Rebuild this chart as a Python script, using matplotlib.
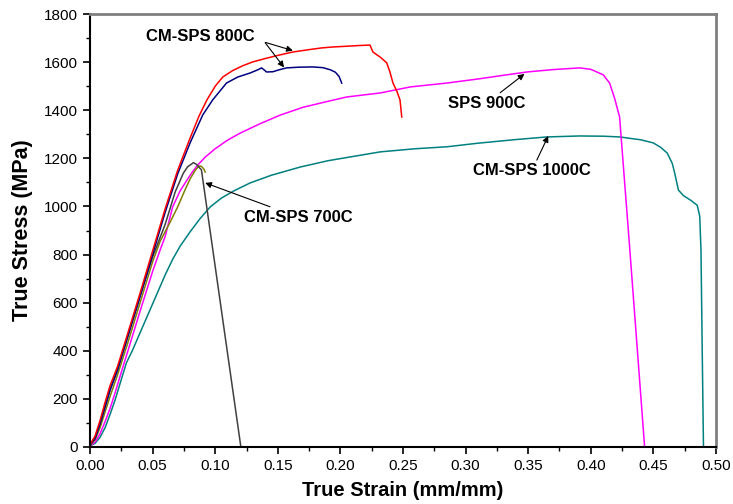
import numpy as np
import matplotlib
matplotlib.use("Agg")
import matplotlib.pyplot as plt
from matplotlib.ticker import MultipleLocator

plt.rcParams['font.family'] = ['Liberation Sans', 'DejaVu Sans']

# stress-strain curves (true strain, true stress in MPa)
red_strain = [0, 0.004, 0.008, 0.012, 0.016, 0.022, 0.03, 0.04, 0.05, 0.06, 0.07, 0.08, 0.087,
              0.0934, 0.1, 0.106, 0.114, 0.122, 0.13, 0.14, 0.15, 0.162, 0.175, 0.185, 0.194,
              0.205, 0.215, 0.2236, 0.2245, 0.226, 0.232, 0.237, 0.2395, 0.242, 0.245, 0.2476, 0.249]
red_stress = [10, 45, 110, 185, 255, 335, 470, 640, 815, 990, 1150, 1285, 1375,
              1443, 1500, 1538, 1565, 1585, 1601, 1615, 1628, 1642, 1652, 1659, 1663,
              1666, 1669, 1671, 1660, 1642, 1620, 1597, 1560, 1513, 1480, 1443, 1372]

blue_strain = [0, 0.004, 0.008, 0.012, 0.016, 0.022, 0.03, 0.04, 0.05, 0.06, 0.07, 0.08, 0.09,
               0.098, 0.109, 0.118, 0.128, 0.134, 0.137, 0.139, 0.141, 0.146, 0.151, 0.157,
               0.167, 0.178, 0.186, 0.192, 0.196, 0.199, 0.201]
blue_stress = [8, 35, 95, 165, 235, 320, 455, 625, 800, 975, 1135, 1265, 1380,
               1443, 1513, 1538, 1555, 1568, 1576, 1568, 1559, 1560, 1568, 1576,
               1579, 1580, 1577, 1568, 1558, 1540, 1513]

magenta_strain = [0, 0.004, 0.008, 0.012, 0.016, 0.02, 0.026, 0.03, 0.04, 0.05, 0.056, 0.06, 0.066,
                  0.072, 0.0775, 0.082, 0.086, 0.092, 0.1, 0.11, 0.12, 0.135, 0.152, 0.17, 0.19,
                  0.205, 0.232, 0.256, 0.285, 0.31, 0.33, 0.349, 0.37, 0.391, 0.40, 0.41, 0.415,
                  0.419, 0.423, 0.431, 0.443]
magenta_stress = [5, 20, 55, 105, 160, 225, 328, 395, 565, 730, 819, 875, 998,
                  1065, 1110, 1145, 1172, 1205, 1240, 1276, 1305, 1342, 1380, 1412, 1437,
                  1455, 1472, 1497, 1513, 1530, 1545, 1559, 1569, 1576, 1570, 1547, 1513,
                  1450, 1372, 832, 0]

teal_strain = [0, 0.004, 0.008, 0.012, 0.016, 0.02, 0.029, 0.034, 0.04, 0.05, 0.06, 0.066, 0.072,
               0.08, 0.088, 0.096, 0.105, 0.115, 0.128, 0.145, 0.168, 0.19, 0.208, 0.232, 0.26,
               0.285, 0.31, 0.34, 0.365, 0.391, 0.41, 0.423, 0.44, 0.45, 0.456, 0.461, 0.465,
               0.467, 0.47, 0.474, 0.48, 0.485, 0.487, 0.488, 0.489, 0.49, 0.5]
teal_stress = [5, 15, 40, 80, 135, 195, 349, 403, 475, 595, 715, 780, 835,
               895, 950, 998, 1035, 1065, 1098, 1130, 1164, 1190, 1206, 1227, 1240,
               1248, 1263, 1278, 1289, 1293, 1292, 1289, 1277, 1264, 1245, 1222, 1180,
               1139, 1068, 1045, 1025, 1005, 960, 820, 400, 0, 0]

gray_strain = [0, 0.004, 0.008, 0.012, 0.016, 0.022, 0.03, 0.04, 0.05, 0.06, 0.068, 0.0745,
               0.078, 0.0826, 0.085, 0.089, 0.1205]
gray_stress = [10, 40, 100, 170, 240, 325, 460, 630, 790, 925, 1060, 1138,
               1165, 1182, 1175, 1152, 0]

olive_strain = [0, 0.004, 0.008, 0.012, 0.016, 0.022, 0.03, 0.04, 0.05, 0.056, 0.064, 0.07,
                0.076, 0.08, 0.084, 0.087, 0.089, 0.091, 0.092]
olive_stress = [5, 30, 80, 145, 210, 300, 430, 600, 770, 855, 935, 998,
                1070, 1115, 1150, 1168, 1167, 1155, 1143]

fig = plt.figure(figsize=(7.33, 5.04), dpi=100)
ax = fig.add_axes([0.1228, 0.1131, 0.854, 0.8591])

lw = 1.1
ax.plot(teal_strain, teal_stress, color='#008080', lw=lw)
ax.plot(magenta_strain, magenta_stress, color='#ff00ff', lw=lw)
ax.plot(olive_strain, olive_stress, color='#808000', lw=lw)
ax.plot(gray_strain, gray_stress, color='#404040', lw=lw)
ax.plot(blue_strain, blue_stress, color='#000080', lw=lw)
ax.plot(red_strain, red_stress, color='#ff0000', lw=lw)

ax.set_xlim(0, 0.5)
ax.set_ylim(0, 1800)
ax.xaxis.set_major_locator(MultipleLocator(0.05))
ax.xaxis.set_minor_locator(MultipleLocator(0.025))
ax.yaxis.set_major_locator(MultipleLocator(200))
ax.yaxis.set_minor_locator(MultipleLocator(100))
ax.xaxis.set_major_formatter(plt.FormatStrFormatter('%.2f'))
ax.tick_params(which='major', direction='out', length=5, width=1.2, labelsize=11)
ax.tick_params(which='minor', direction='out', length=3, width=1.0)

for s in ['left', 'bottom']:
    ax.spines[s].set_linewidth(1.5)
    ax.spines[s].set_color('black')
for s in ['top', 'right']:
    ax.spines[s].set_linewidth(2)
    ax.spines[s].set_color('#808080')

ax.set_xlabel('True Strain (mm/mm)', fontsize=14.5, fontweight='bold', labelpad=6)
ax.set_ylabel('True Stress (MPa)', fontsize=15.5, fontweight='bold', labelpad=8)

# labels with arrows
arrow = dict(arrowstyle='-|>', color='black', lw=0.8, mutation_scale=9, shrinkA=0, shrinkB=0)
ax.text(0.088, 1705, 'CM-SPS 800C', fontsize=12, fontweight='bold', ha='center', va='center')
ax.annotate('', xy=(0.162, 1648), xytext=(0.140, 1682), arrowprops=arrow)
ax.annotate('', xy=(0.155, 1578), xytext=(0.140, 1680), arrowprops=arrow)

ax.annotate('SPS 900C', xy=(0.347, 1551), xytext=(0.317, 1430), fontsize=12, fontweight='bold',
            ha='center', va='center', arrowprops=arrow)
ax.annotate('CM-SPS 1000C', xy=(0.366, 1293), xytext=(0.353, 1150), fontsize=12, fontweight='bold',
            ha='center', va='center', arrowprops=arrow)
ax.annotate('CM-SPS 700C', xy=(0.092, 1098), xytext=(0.166, 956), fontsize=12, fontweight='bold',
            ha='center', va='center', arrowprops=arrow)

fig.savefig('out.png', dpi=100)
